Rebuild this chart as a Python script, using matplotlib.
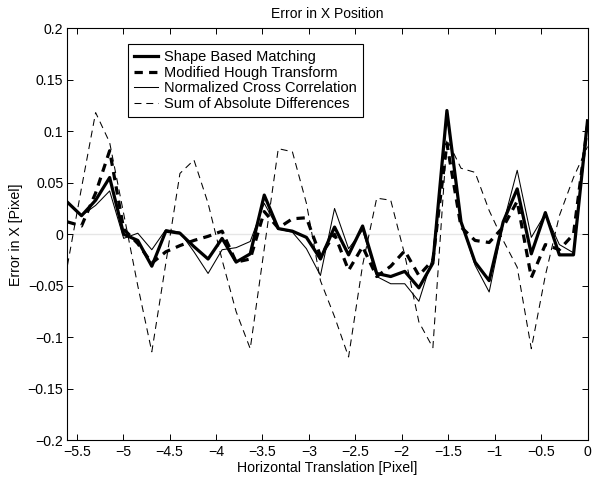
import matplotlib
matplotlib.use("Agg")
import matplotlib.pyplot as plt
from matplotlib.ticker import FuncFormatter, MultipleLocator

plt.rcParams['font.family'] = ['Liberation Sans', 'DejaVu Sans']
plt.rcParams['lines.scale_dashes'] = False

# horizontal translation [pixel]
x_shift = [-5.600, -5.449, -5.297, -5.146, -4.995, -4.843, -4.692, -4.541,
           -4.389, -4.238, -4.086, -3.935, -3.784, -3.632, -3.481, -3.330,
           -3.178, -3.027, -2.876, -2.724, -2.573, -2.422, -2.270, -2.119,
           -1.968, -1.816, -1.665, -1.514, -1.362, -1.211, -1.059, -0.908,
           -0.757, -0.605, -0.454, -0.303, -0.151, 0.000]

shape_based = [0.031, 0.018, 0.033, 0.055, 0.000, -0.006, -0.031, 0.003,
               0.001, -0.012, -0.024, -0.004, -0.027, -0.019, 0.038, 0.0055,
               0.003, -0.003, -0.024, 0.007, -0.020, 0.008, -0.038, -0.041,
               -0.036, -0.052, -0.028, 0.120, 0.012, -0.027, -0.045, 0.012,
               0.044, -0.019, 0.021, -0.020, -0.020, 0.110]

mod_hough = [0.012, 0.008, 0.040, 0.081, 0.005, -0.009, -0.028, -0.017,
             -0.011, -0.006, -0.002, 0.003, -0.027, -0.024, 0.022, 0.006,
             0.015, 0.016, -0.021, 0.000, -0.035, -0.012, -0.041, -0.031,
             -0.016, -0.040, -0.025, 0.088, 0.007, -0.006, -0.008, 0.007,
             0.032, -0.042, -0.010, -0.015, 0.000, 0.105]

norm_cc = [0.030, 0.018, 0.028, 0.042, -0.004, 0.001, -0.015, 0.0045,
           0.002, -0.017, -0.038, -0.015, -0.013, -0.007, 0.030, 0.005,
           0.002, -0.014, -0.040, 0.025, -0.014, 0.004, -0.041, -0.048,
           -0.048, -0.065, -0.022, 0.115, 0.012, -0.030, -0.056, 0.010,
           0.062, -0.003, 0.020, -0.010, -0.018, 0.110]

sum_abs_diff = [-0.030, 0.045, 0.118, 0.089, 0.020, -0.050, -0.114, -0.028,
                0.059, 0.072, 0.030, -0.025, -0.075, -0.111, -0.014, 0.083,
                0.080, 0.030, -0.045, -0.080, -0.119, -0.030, 0.035, 0.033,
                -0.020, -0.085, -0.110, 0.092, 0.064, 0.060, 0.023, -0.006,
                -0.032, -0.111, -0.040, 0.018, 0.055, 0.085]

labels = ['Shape Based Matching', 'Modified Hough Transform',
          'Normalized Cross Correlation', 'Sum of Absolute Differences']

fig = plt.figure(figsize=(5.92, 4.82), dpi=100)
ax = fig.add_axes([0.114, 0.0861, 0.8784, 0.8558])

ax.axhline(0, color='#e6e6e6', lw=1.0, zorder=1)

ax.plot(x_shift, shape_based, color='black', lw=2.3, ls='-', label=labels[0], zorder=3)
ax.plot(x_shift, mod_hough, color='black', lw=2.3, ls=(0, (6.0, 4.5)), label=labels[1], zorder=3)
ax.plot(x_shift, norm_cc, color='black', lw=0.75, ls='-', label=labels[2], zorder=3)
ax.plot(x_shift, sum_abs_diff, color='black', lw=0.75, ls=(0, (5.0, 3.5)), label=labels[3], zorder=3)

ax.set_xlim(-5.6, 0)
ax.set_ylim(-0.2, 0.2)
ax.xaxis.set_major_locator(MultipleLocator(0.5))
ax.yaxis.set_major_locator(MultipleLocator(0.05))

fmt = FuncFormatter(lambda v, p: ('%g' % round(v, 6)).replace('-', '\u2212'))
ax.xaxis.set_major_formatter(fmt)
ax.yaxis.set_major_formatter(fmt)

ax.tick_params(direction='in', top=True, right=True, length=4, width=0.7,
               labelsize=10.2, pad=3, color='black')
for s in ax.spines.values():
    s.set_linewidth(0.8)

ax.set_title('Error in X Position', fontsize=10, pad=7)
ax.set_xlabel('Horizontal Translation [Pixel]', fontsize=10.2, labelpad=2)
ax.set_ylabel('Error in X [Pixel]', fontsize=10.2, labelpad=3)

leg = ax.legend(loc='upper left', bbox_to_anchor=(0.116, 0.961), borderaxespad=0,
                fontsize=10.5, handlelength=1.65, handletextpad=0.46,
                labelspacing=0.12, borderpad=0.4, fancybox=False,
                framealpha=1, edgecolor='black')
leg.get_frame().set_linewidth(0.8)

fig.savefig('out.png', dpi=100)
